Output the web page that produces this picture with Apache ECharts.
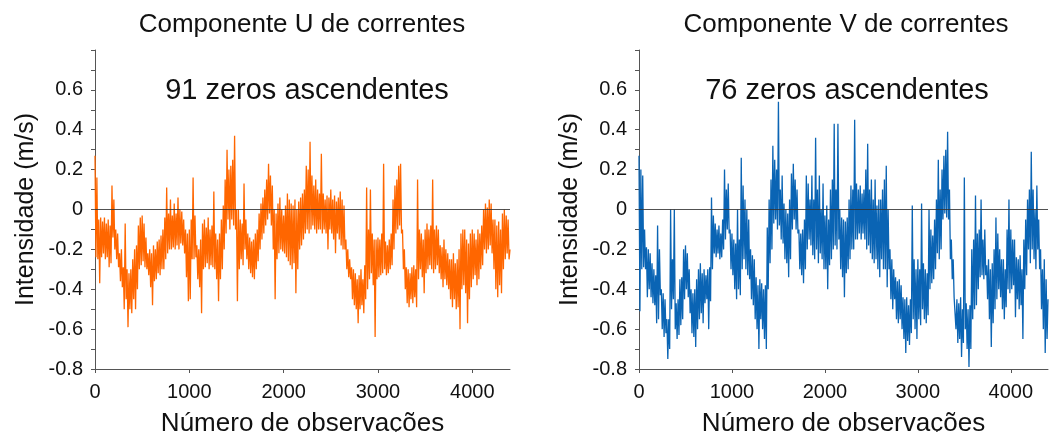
<!DOCTYPE html>
<html>
<head>
<meta charset="utf-8">
<script src="https://cdn.jsdelivr.net/npm/echarts@6/dist/echarts.min.js"></script>
<style>
html,body{margin:0;padding:0;background:#fff;}
#chart{width:1051px;height:432px;}
</style>
</head>
<body>
<div id="chart"></div>
<script>
// Observation bins (every 20 observations); each bin holds an upper and a lower reading
const binSize = 20;
const xTicks = [0, 1000, 2000, 3000, 4000];
const yTicks = [-0.8, -0.6, -0.4, -0.2, 0, 0.2, 0.4, 0.6];

const titleU = 'Componente U de correntes';
const titleV = 'Componente V de correntes';
const noteU = '91 zeros ascendentes';
const noteV = '76 zeros ascendentes';
const yName = 'Intensidade (m/s)';
const xName = 'Número de observações';

// U component (one row = 200 observations)
const uHi = [
  0.27,0.16,-0.05,-0.04,-0.06,-0.04,-0.07,-0.05,-0.08,0.12,
  0.05,-0.1,-0.12,-0.22,-0.2,-0.29,-0.07,-0.3,-0.32,-0.3,
  -0.25,-0.2,-0.18,-0.08,-0.04,-0.03,-0.07,-0.14,-0.22,-0.2,
  -0.22,-0.18,-0.2,-0.16,-0.15,-0.13,-0.1,-0.04,0.11,-0.02,
  0.05,-0.03,0.03,-0.02,0.06,0.0,-0.01,-0.05,-0.1,-0.12,
  -0.1,-0.05,0.16,-0.03,-0.18,-0.2,-0.15,-0.07,-0.05,-0.09,
  -0.04,-0.1,-0.08,0.09,-0.12,-0.15,-0.12,-0.05,0.02,0.15,
  0.3,0.2,0.22,0.25,0.37,0.0,0.0,-0.05,-0.07,0.13,
  -0.05,-0.12,-0.14,-0.16,-0.15,-0.12,-0.1,-0.02,0.03,0.06,
  0.1,0.15,0.23,0.17,0.12,0.0,-0.02,0.03,0.06,0.0,
  -0.03,0.02,0.08,0.05,0.03,0.02,0.05,0.0,0.04,0.06,
  0.08,0.1,0.22,0.2,0.34,0.17,0.12,0.15,0.1,0.08,
  0.28,0.08,0.05,0.07,0.06,0.1,0.05,0.07,0.04,0.06,
  0.09,0.05,0.02,-0.15,-0.2,-0.25,-0.29,-0.3,-0.32,-0.35,
  -0.33,-0.3,-0.35,-0.28,0.11,-0.1,0.1,-0.12,-0.15,-0.15,
  -0.14,-0.15,-0.12,0.23,-0.16,-0.18,-0.15,-0.12,0.05,0.12,
  0.15,0.22,0.23,-0.1,-0.2,-0.29,-0.3,-0.32,-0.29,-0.28,
  -0.3,0.15,-0.1,-0.12,-0.15,-0.1,-0.07,-0.1,-0.08,0.15,
  -0.1,-0.08,-0.1,-0.18,-0.19,-0.15,-0.2,-0.22,-0.25,-0.25,
  -0.22,-0.27,-0.25,-0.2,-0.12,-0.1,-0.1,-0.15,-0.17,-0.12,
  -0.1,-0.12,-0.15,-0.1,-0.12,-0.08,0.0,0.03,0.01,0.05,
  0.03,-0.05,-0.05,-0.08,-0.06,-0.1,-0.02,0.0,-0.03,-0.05
];
const uLo = [
  -0.24,-0.25,-0.37,-0.24,-0.22,-0.25,-0.24,-0.29,-0.27,-0.14,
  -0.2,-0.25,-0.29,-0.36,-0.39,-0.5,-0.45,-0.59,-0.5,-0.52,
  -0.45,-0.5,-0.4,-0.3,-0.28,-0.26,-0.29,-0.3,-0.33,-0.39,
  -0.48,-0.36,-0.35,-0.32,-0.33,-0.3,-0.3,-0.25,-0.22,-0.2,
  -0.2,-0.19,-0.2,-0.18,-0.2,-0.17,-0.18,-0.22,-0.34,-0.46,
  -0.45,-0.25,-0.25,-0.24,-0.35,-0.39,-0.52,-0.3,-0.29,-0.27,
  -0.3,-0.28,-0.29,-0.3,-0.35,-0.46,-0.35,-0.3,-0.2,-0.12,
  -0.05,-0.1,-0.05,-0.08,-0.1,-0.46,-0.3,-0.25,-0.28,-0.2,
  -0.25,-0.3,-0.32,-0.34,-0.35,-0.3,-0.26,-0.2,-0.15,-0.12,
  -0.08,-0.05,-0.02,-0.08,-0.2,-0.45,-0.25,-0.22,-0.2,-0.21,
  -0.22,-0.24,-0.26,-0.28,-0.3,-0.27,-0.42,-0.3,-0.2,-0.18,
  -0.15,-0.12,-0.1,-0.12,-0.1,-0.08,-0.1,-0.12,-0.1,-0.1,
  -0.12,-0.1,-0.12,-0.2,-0.1,-0.12,-0.15,-0.22,-0.12,-0.15,
  -0.18,-0.2,-0.2,-0.3,-0.34,-0.35,-0.45,-0.48,-0.5,-0.57,
  -0.5,-0.48,-0.52,-0.45,-0.4,-0.35,-0.32,-0.38,-0.64,-0.35,
  -0.34,-0.33,-0.32,-0.3,-0.33,-0.32,-0.3,-0.28,-0.2,-0.12,
  -0.1,-0.08,-0.12,-0.3,-0.4,-0.47,-0.49,-0.45,-0.47,-0.44,
  -0.49,-0.35,-0.3,-0.34,-0.42,-0.32,-0.3,-0.28,-0.3,-0.32,
  -0.3,-0.28,-0.32,-0.35,-0.39,-0.35,-0.38,-0.4,-0.45,-0.49,
  -0.45,-0.5,-0.49,-0.6,-0.4,-0.38,-0.42,-0.57,-0.45,-0.39,
  -0.35,-0.33,-0.38,-0.35,-0.3,-0.28,-0.2,-0.22,-0.2,-0.18,
  -0.22,-0.3,-0.4,-0.44,-0.38,-0.42,-0.3,-0.25,-0.22,-0.25
];
const uEnd = -0.2;

// V component (one row = 200 observations)
const vHi = [
  0.27,0.2,0.17,-0.1,-0.19,-0.2,-0.22,-0.27,-0.3,-0.33,
  -0.08,-0.2,-0.4,-0.42,-0.45,-0.55,-0.55,0.0,-0.25,0.0,
  -0.47,-0.45,-0.35,-0.34,-0.2,-0.18,-0.22,-0.3,-0.4,-0.42,
  -0.4,-0.35,-0.3,-0.27,-0.32,-0.3,-0.33,-0.3,-0.29,0.06,
  -0.03,-0.07,-0.1,-0.08,-0.12,-0.05,0.2,0.1,0.13,-0.1,
  -0.12,-0.15,-0.17,0.0,-0.15,0.26,0.12,0.05,0.0,-0.05,
  -0.2,-0.23,-0.25,-0.34,-0.38,-0.35,-0.37,-0.4,-0.38,-0.09,
  0.05,0.15,0.32,0.25,0.2,0.54,0.1,0.17,0.03,0.0,
  -0.02,0.05,0.18,0.23,0.15,0.1,-0.1,-0.12,-0.1,-0.05,
  0.17,0.13,0.05,0.17,0.05,0.36,0.1,0.17,0.0,0.13,
  -0.03,0.02,-0.05,0.1,0.15,0.43,0.1,0.43,0.0,-0.04,
  -0.05,-0.06,-0.04,0.05,0.12,0.1,0.45,0.13,0.1,0.12,
  0.08,0.1,0.2,0.33,0.1,0.15,0.05,0.15,0.02,0.05,
  0.05,0.1,0.15,0.22,0.0,-0.2,-0.25,-0.3,-0.34,-0.36,
  -0.35,-0.38,-0.44,-0.45,-0.44,-0.48,-0.45,0.02,-0.25,-0.3,
  -0.25,-0.3,0.03,-0.27,-0.3,-0.32,0.0,-0.1,-0.13,-0.05,
  0.05,0.25,0.1,0.2,0.27,0.3,0.39,0.1,-0.15,-0.25,
  -0.44,-0.45,-0.47,-0.44,-0.5,0.16,-0.47,-0.5,-0.48,-0.2,
  -0.15,0.07,-0.12,-0.1,0.05,-0.15,-0.1,-0.28,-0.25,-0.3,
  -0.27,-0.2,-0.04,-0.12,-0.2,-0.25,-0.25,-0.3,-0.1,0.05,
  -0.1,-0.15,-0.15,-0.24,-0.25,-0.23,-0.3,-0.15,-0.05,0.05,
  0.1,0.29,0.1,0.0,0.12,-0.05,-0.2,-0.3,-0.25,-0.35
];
const vLo = [
  -0.51,-0.3,-0.29,-0.3,-0.44,-0.4,-0.44,-0.47,-0.48,-0.57,
  -0.55,-0.43,-0.6,-0.64,-0.62,-0.75,-0.7,-0.5,-0.45,-0.6,
  -0.65,-0.63,-0.58,-0.55,-0.45,-0.4,-0.44,-0.52,-0.62,-0.64,
  -0.69,-0.6,-0.55,-0.52,-0.57,-0.47,-0.45,-0.6,-0.46,-0.3,
  -0.22,-0.24,-0.22,-0.25,-0.24,-0.2,-0.15,-0.1,-0.12,-0.3,
  -0.33,-0.4,-0.45,-0.4,-0.43,-0.3,-0.25,-0.3,-0.33,-0.35,
  -0.45,-0.48,-0.55,-0.6,-0.7,-0.55,-0.6,-0.65,-0.7,-0.4,
  -0.27,-0.2,-0.07,-0.05,-0.1,-0.08,-0.15,-0.17,-0.25,-0.27,
  -0.34,-0.25,-0.1,-0.05,-0.1,-0.12,-0.3,-0.33,-0.37,-0.3,
  -0.2,-0.15,-0.18,-0.23,-0.25,-0.2,-0.27,-0.22,-0.25,-0.3,
  -0.3,-0.4,-0.28,-0.25,-0.2,-0.18,-0.2,-0.15,-0.3,-0.34,
  -0.44,-0.32,-0.3,-0.25,-0.2,-0.2,-0.15,-0.15,-0.12,-0.15,
  -0.12,-0.15,-0.2,-0.18,-0.22,-0.25,-0.27,-0.25,-0.3,-0.34,
  -0.25,-0.3,-0.3,-0.39,-0.3,-0.45,-0.5,-0.45,-0.55,-0.57,
  -0.55,-0.6,-0.65,-0.72,-0.66,-0.68,-0.62,-0.55,-0.6,-0.65,
  -0.55,-0.58,-0.5,-0.55,-0.57,-0.53,-0.4,-0.37,-0.35,-0.3,
  -0.22,-0.25,-0.2,-0.05,-0.02,-0.04,-0.05,-0.25,-0.35,-0.44,
  -0.6,-0.67,-0.65,-0.74,-0.67,-0.6,-0.7,-0.79,-0.7,-0.55,
  -0.5,-0.48,-0.4,-0.34,-0.33,-0.35,-0.33,-0.45,-0.55,-0.69,
  -0.57,-0.5,-0.45,-0.4,-0.44,-0.5,-0.55,-0.49,-0.4,-0.42,
  -0.4,-0.38,-0.54,-0.45,-0.5,-0.48,-0.65,-0.4,-0.33,-0.2,
  -0.27,-0.2,-0.25,-0.3,-0.2,-0.3,-0.5,-0.6,-0.72,-0.65
];
const vEnd = -0.45;

function buildSeries(hi, lo, endVal) {
  const out = [];
  for (let i = 0; i < hi.length; i++) {
    const start = i * binSize;
    out.push([start, hi[i]]);
    out.push([start + binSize / 2, lo[i]]);
  }
  out.push([hi.length * binSize, endVal]);
  return out;
}
const uData = buildSeries(uHi, uLo, uEnd);
const vData = buildSeries(vHi, vLo, vEnd);

const FONT = '"Liberation Sans", Arial, sans-serif';
const xMax = 4400;

function xAxisFor(idx) {
  return {
    type: 'value', gridIndex: idx, min: xTicks[0], max: xMax, interval: 1000,
    name: xName, nameLocation: 'middle', nameGap: 42,
    nameTextStyle: { fontFamily: FONT, fontSize: 26, color: '#111' },
    axisLine: { show: true, onZero: false, lineStyle: { color: '#555', width: 1 } },
    axisTick: { show: true, length: 4, lineStyle: { color: '#555' } },
    axisLabel: { fontFamily: FONT, fontSize: 20, color: '#111', margin: 13, showMaxLabel: false,
      formatter: v => (xTicks.indexOf(v) >= 0 ? String(v) : '') },
    splitLine: { show: false }
  };
}
function yAxisFor(idx) {
  return {
    type: 'value', gridIndex: idx, min: -0.8, max: 0.8, interval: 0.2,
    name: yName, nameLocation: 'middle', nameGap: 56, nameRotate: 90,
    nameTextStyle: { fontFamily: FONT, fontSize: 25, color: '#111' },
    axisLine: { show: true, onZero: false, lineStyle: { color: '#555', width: 1 } },
    axisTick: { show: true, length: 4, lineStyle: { color: '#555' } },
    minorTick: { show: true, splitNumber: 2, length: 4, lineStyle: { color: '#555' } },
    axisLabel: { fontFamily: FONT, fontSize: 20, color: '#111', margin: 12, showMaxLabel: false,
      formatter: v => { const r = Math.round(v * 10) / 10; return yTicks.indexOf(r) >= 0 ? String(r) : ''; } },
    splitLine: { show: false }
  };
}
function zeroLine() {
  return {
    silent: true, symbol: ['none', 'none'], animation: false,
    label: { show: false },
    lineStyle: { color: '#333', width: 1.2, type: 'solid', opacity: 0.85 },
    data: [{ yAxis: 0 }]
  };
}
function textEl(txt, x, y, size) {
  return { type: 'text', x: x, y: y, silent: true,
    style: { text: txt, font: size + 'px ' + FONT, fill: '#111',
      align: 'center', verticalAlign: 'middle', textAlign: 'center', textVerticalAlign: 'middle' } };
}

const chart = echarts.init(document.getElementById('chart'), null, { renderer: 'canvas' });
chart.setOption({
  backgroundColor: '#ffffff',
  animation: false,
  grid: [
    { left: 95, top: 50, width: 415, height: 319, containLabel: false, outerBoundsMode: 'none' },
    { left: 639, top: 50, width: 409, height: 319, containLabel: false, outerBoundsMode: 'none' }
  ],
  xAxis: [xAxisFor(0), xAxisFor(1)],
  yAxis: [yAxisFor(0), yAxisFor(1)],
  graphic: [
    textEl(titleU, 302, 24.5, 26),
    textEl(titleV, 846, 24.5, 26),
    textEl(noteU, 307, 90.5, 29),
    textEl(noteV, 847, 90.5, 29)
  ],
  series: [
    { type: 'line', xAxisIndex: 0, yAxisIndex: 0, data: uData, showSymbol: false, symbol: 'none',
      lineStyle: { color: '#ff6600', width: 1.3 }, itemStyle: { color: '#ff6600' }, markLine: zeroLine() },
    { type: 'line', xAxisIndex: 1, yAxisIndex: 1, data: vData, showSymbol: false, symbol: 'none',
      lineStyle: { color: '#0a64b4', width: 1.3 }, itemStyle: { color: '#0a64b4' }, markLine: zeroLine() }
  ]
});
</script>
</body>
</html>
